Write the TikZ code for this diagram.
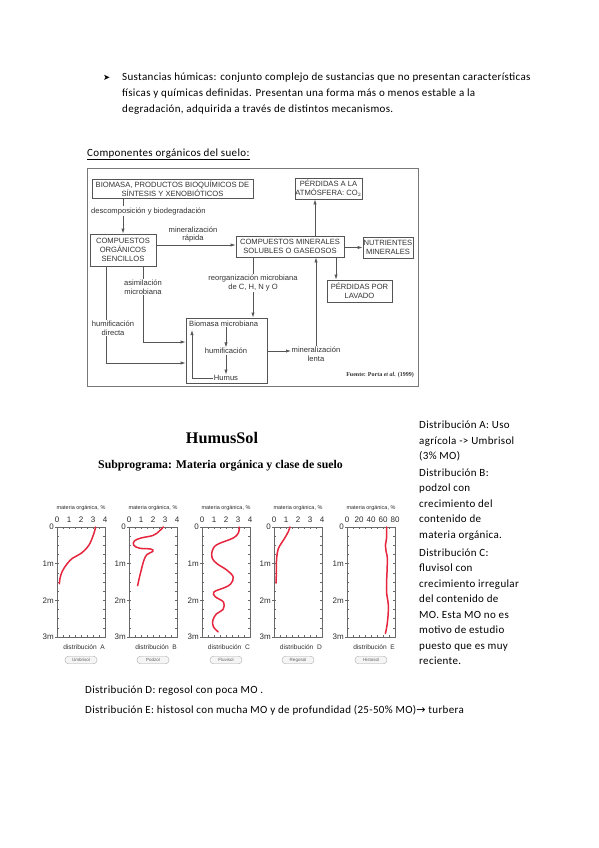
\documentclass[tikz,border=0pt]{standalone}
\usepackage{fontspec}
\setmainfont{Carlito}
\newfontfamily\wordf[LetterSpace=3]{Carlito}
\newfontfamily\arialf{Liberation Sans}
\newfontfamily\timesf{Liberation Serif}
\newfontfamily\dvs{DejaVu Sans}
\usetikzlibrary{arrows.meta,calc}
\definecolor{ink}{RGB}{45,45,45}
\definecolor{fcline}{RGB}{85,85,85}
\definecolor{fctext}{RGB}{50,50,50}
\definecolor{outerline}{RGB}{120,120,120}
\definecolor{curvered}{RGB}{230,38,62}
\definecolor{axisgray}{RGB}{105,105,105}
\tikzset{
  wtext/.style={anchor=base west, inner sep=0pt, font=\wordf\fontsize{11}{13}\selectfont, text=black},
  fbox/.style={draw=fcline, line width=0.7pt, inner sep=0.5pt, align=center,
    font=\arialf\fontsize{7.6}{9.3}\selectfont, text=fctext},
  flabel/.style={fill=white, inner sep=1pt, align=center,
    font=\arialf\fontsize{7.6}{8.6}\selectfont, text=fctext},
  ftext/.style={inner sep=0.5pt, font=\arialf\fontsize{7.6}{8.6}\selectfont, text=fctext},
  farrow/.style={draw=fcline, line width=0.7pt, -{Latex[length=5pt,width=3.2pt]}},
  fline/.style={draw=fcline, line width=0.7pt},
  axisline/.style={draw=axisgray, line width=0.6pt},
  tickl/.style={draw=axisgray, line width=0.4pt},
  axnum/.style={font=\arialf\fontsize{8}{8}\selectfont, text=ink, inner sep=0pt, anchor=base},
  depthlab/.style={font=\arialf\fontsize{8}{8}\selectfont, text=ink, inner sep=0pt, anchor=east},
  mattitle/.style={font=\arialf\fontsize{5.5}{6}\selectfont, text=ink, inner sep=0pt},
  distlabel/.style={font=\arialf\fontsize{6.6}{7}\selectfont, text=ink, inner sep=0pt, anchor=base east},
  pill/.style={draw=gray!65, fill=gray!8, rounded corners=3.5pt, minimum width=32pt,
    minimum height=7.5pt, inner sep=0pt, font=\arialf\fontsize{4.5}{5}\selectfont, text=gray!75!black},
  soilcurve/.style={draw=curvered, line width=1.5pt, line cap=round, line join=round},
}
\newcommand\soilchart[4]{%
\begin{scope}[shift={(#1,527)}]
  \node[mattitle] (tt#2) at (24,-19) {materia orgánica, \%};
  \foreach \lab [count=\i from 0] in {#4} {\node[axnum] (n#2\i) at ({\i*12},-5) {\lab};}
  \draw[axisline] (0,0) rectangle (48,110);
  \foreach \t in {0,6,...,48} {\draw[tickl] (\t,0) -- (\t,1.8); \draw[tickl] (\t,110) -- (\t,108.2);}
  \foreach \k in {0,...,12} {\draw[tickl] (0,{\k*110/12}) -- (1.8,{\k*110/12});
     \draw[tickl] (48,{\k*110/12}) -- (46.2,{\k*110/12});}
  \foreach \d/\dl [count=\j] in {0/0,36.667/1m,73.333/2m,110/3m}
     {\draw[tickl] (0,\d) -- (-2.5,\d); \node[depthlab] (d#2\j) at (-3,\d) {\dl};}
  \node[distlabel] (dl#2) at (48,122) {distribución\ \ #2};
  \node[pill] (p#2) at (24,133) {#3};
\end{scope}}
\begin{document}
\begin{tikzpicture}[x=1pt,y=-1pt]
\useasboundingbox[fill=white] (0,0) rectangle (599,848);

% ---------- bullet paragraph ----------
\node[anchor=base west, inner sep=0pt, font=\dvs\fontsize{8.5}{10}\selectfont] (bul) at (103,80.5) {➤};
\node[wtext] (t1) at (122,81) {Sustancias húmicas: conjunto complejo de sustancias que no presentan características};
\node[wtext] (t2) at (122,97) {físicas y químicas definidas. Presentan una forma más o menos estable a la};
\node[wtext] (t3) at (122,113) {degradación, adquirida a través de distintos mecanismos.};
\node[wtext] (comp) at (87,156) {\underline{Componentes orgánicos del suelo:}};

% ---------- flowchart ----------
\draw[draw=outerline, line width=1pt] (87,168) rectangle (418,386);
\node[fbox, minimum width=161pt, minimum height=19pt] (BIO) at (172.5,188.5)
   {BIOMASA, PRODUCTOS BIOQUÍMICOS DE\\SÍNTESIS Y XENOBIÓTICOS};
\node[fbox, minimum width=67pt, minimum height=21pt] (ATM) at (328.5,188.5)
   {PÉRDIDAS A LA\\ATMÓSFERA: CO$_2$};
\node[fbox, minimum width=66pt, minimum height=32pt] (ORG) at (123,250)
   {COMPUESTOS\\ORGÁNICOS\\SENCILLOS};
\node[fbox, minimum width=108pt, minimum height=21pt] (MIN) at (290,246.5)
   {COMPUESTOS MINERALES\\SOLUBLES O GASEOSOS};
\node[fbox, minimum width=50pt, minimum height=21pt] (NUT) at (388,247.5)
   {NUTRIENTES\\MINERALES};
\node[fbox, minimum width=65pt, minimum height=22pt] (LAV) at (359.5,291)
   {PÉRDIDAS POR\\LAVADO};
\node[draw=fcline, line width=0.7pt, minimum width=81pt, minimum height=65pt, inner sep=0pt] (bio) at (226.5,350.5) {};
\node[ftext, anchor=west] (bmt) at (188.5,324) {Biomasa microbiana};
\node[ftext] (humi) at (226,351) {humificación};
\node[ftext] (humus) at (226,378) {Humus};
\node[ftext, align=center] (lenta) at (316,354) {mineralización\\lenta};

\coordinate (h2) at (0,245);
\coordinate (vx) at (315,0);
\coordinate (lx) at (336,0);
\coordinate (rx) at (253,0);
\coordinate (ax) at (143,342);
\coordinate (dx) at (106,363);
\coordinate (lp) at (192,330);

\draw[farrow] (BIO.south -| ORG.north) -- (ORG.north);
\draw[farrow] (ORG.east |- h2) -- (MIN.west |- h2);
\draw[farrow] (MIN.north -| vx) -- (ATM.south -| vx);
\draw[farrow] (MIN.east |- NUT.west) -- (NUT.west);
\draw[farrow] (MIN.south -| lx) -- (LAV.north -| lx);
\draw[farrow] (MIN.south -| rx) -- (bio.north -| rx);
\draw[farrow] (ORG.south -| ax) -- (ax) -- (ax -| bio.west);
\draw[farrow] (ORG.south -| dx) -- (dx) -- (dx -| bio.west);
\draw[farrow] (bio.east |- humi) -- (lenta.west |- humi);
\draw[farrow] (lenta.north) -- (lenta.north |- MIN.south);
\draw[farrow] (bmt.south -| humi) -- (humi.north);
\draw[farrow] (humi.south) -- (humus.north);
\draw[farrow] (humus.west) -- (humus.west -| lp) -- (lp);

\node[flabel, anchor=west] (dlab) at (90,211) {descomposición y biodegradación};
\node[ftext, align=center, anchor=south] (mrap) at (193,243) {mineralización\\rápida};
\node[flabel] (reor) at (253,283) {reorganización microbiana\\de C, H, N y O};
\node[flabel] (asim) at (143,287) {asimilación\\microbiana};
\node[flabel] (hdir) at (113,328) {humificación\\directa};
\node[anchor=east, inner sep=0pt, font=\timesf\bfseries\fontsize{6}{7}\selectfont, text=fctext] (fuente) at (414,375)
   {Fuente: Porta \textit{et al.} (1999)};

% ---------- HumusSol ----------
\node[inner sep=0pt, font=\timesf\bfseries\fontsize{16.2}{18}\selectfont] (hs) at (222,438) {HumusSol};
\node[inner sep=0pt, font=\timesf\bfseries\fontsize{11.8}{14}\selectfont] (sub) at (220.5,466)
   {Subprograma: Materia orgánica y clase de suelo};

\soilchart{57}{A}{Umbrisol}{0,1,2,3,4}
\soilchart{129}{B}{Podzol}{0,1,2,3,4}
\soilchart{202}{C}{Fluvisol}{0,1,2,3,4}
\soilchart{274}{D}{Regosol}{0,1,2,3,4}
\soilchart{347}{E}{Histosol}{0,20,40,60,80}

\begin{scope}[shift={(57,527)},x=12pt,y=-36.667pt]
\draw[soilcurve] plot[smooth, tension=0.6] coordinates {(3.22,0) (3.05,0.2) (2.65,0.5) (2.0,0.72) (1.3,0.85) (0.85,1.0) (0.45,1.2) (0.25,1.4) (0.2,1.55)};
\end{scope}
\begin{scope}[shift={(129,527)},x=12pt,y=-36.667pt]
\draw[soilcurve] plot[smooth, tension=0.6] coordinates {(2.86,0) (2.5,0.12) (2.0,0.23) (1.0,0.3) (0.45,0.38) (0.4,0.5) (0.9,0.58) (1.8,0.6) (2.0,0.66) (1.5,0.75) (1.25,0.9) (1.0,1.2) (0.85,1.4) (0.72,1.6)};
\end{scope}
\begin{scope}[shift={(202,527)},x=12pt,y=-36.667pt]
\draw[soilcurve] plot[smooth, tension=0.6] coordinates {(3.1,0) (3.05,0.15) (2.6,0.3) (1.25,0.48) (0.85,0.65) (0.85,0.85) (1.25,1.0) (2.05,1.17) (2.6,1.36) (2.4,1.55) (1.9,1.65) (1.0,1.77) (1.1,1.9) (1.8,2.05) (1.75,2.25) (1.2,2.37) (0.9,2.55) (0.95,2.72) (1.35,2.86)};
\end{scope}
\begin{scope}[shift={(274,527)},x=12pt,y=-36.667pt]
\draw[soilcurve] plot[smooth, tension=0.6] coordinates {(1.33,0) (1.2,0.12) (0.9,0.3) (0.6,0.45) (0.35,0.6) (0.22,0.85) (0.2,1.2) (0.17,1.53)};
\end{scope}
\begin{scope}[shift={(347,527)},x=0.6pt,y=-36.667pt]
\draw[soilcurve] plot[smooth, tension=0.6] coordinates {(66,0) (66,0.3) (64,0.5) (65,0.65) (67,0.8) (67,1.1) (66,1.5) (66,1.8) (68,2.0) (69,2.2) (68,2.5) (66,2.75) (64,2.9)};
\end{scope}

% ---------- right column ----------
\node[wtext] (r1) at (419,428.5) {Distribución A: Uso};
\node[wtext] (r2) at (419,444) {agrícola -> Umbrisol};
\node[wtext] (r3) at (419,459.5) {(3\% MO)};
\node[wtext] (r4) at (419,476) {Distribución B:};
\node[wtext] (r5) at (419,491.5) {podzol con};
\node[wtext] (r6) at (419,507) {crecimiento del};
\node[wtext] (r7) at (419,522.5) {contenido de};
\node[wtext] (r8) at (419,538) {materia orgánica.};
\node[wtext] (r9) at (419,556) {Distribución C:};
\node[wtext] (r10) at (419,571.5) {fluvisol con};
\node[wtext] (r11) at (419,587) {crecimiento irregular};
\node[wtext] (r12) at (419,602.5) {del contenido de};
\node[wtext] (r13) at (419,618) {MO. Esta MO no es};
\node[wtext] (r14) at (419,633.5) {motivo de estudio};
\node[wtext] (r15) at (419,649) {puesto que es muy};
\node[wtext] (r16) at (419,664.5) {reciente.};

% ---------- bottom lines ----------
\node[wtext] (b1) at (85,693.5) {Distribución D: regosol con poca MO .};
\node[wtext] (b2) at (85,713.5) {Distribución E: histosol con mucha MO y de profundidad (25-50\% MO){\dvs\fontsize{11}{12}\selectfont →} turbera};
\end{tikzpicture}
\end{document}
